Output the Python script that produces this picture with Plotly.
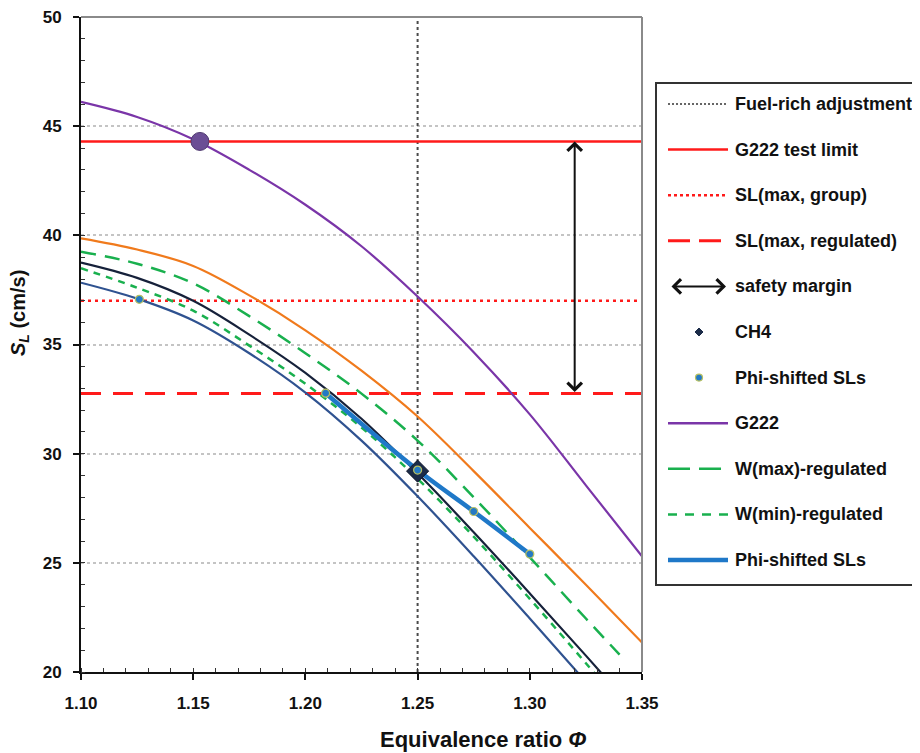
import plotly.graph_objects as go

# ---------------- data ----------------
phi = [1.10, 1.125, 1.15, 1.175, 1.20, 1.225, 1.25, 1.275, 1.30, 1.325, 1.35]
sl_g222 = [46.11, 45.42, 44.40, 43.0, 41.4, 39.5, 37.2, 34.65, 31.8, 28.55, 25.3]
sl_upper = [39.86, 39.35, 38.6, 37.25, 35.65, 33.8, 31.7, 29.2, 26.6, 24.0, 21.35]
sl_ch4 = [38.75, 38.05, 37.0, 35.45, 33.7, 31.6, 29.1, 26.4, 23.6, 20.75, 17.85]
sl_lower = [37.83, 37.1, 36.1, 34.6, 32.8, 30.6, 28.05, 25.3, 22.45, 19.55, 16.6]
sl_wmin = [38.49, 37.6, 36.55, 34.95, 33.2, 31.2, 28.85, 26.2, 23.35, 20.4, 17.4]
phi_wmax = [1.10, 1.125, 1.15, 1.175, 1.20, 1.225, 1.25, 1.275, 1.30, 1.325, 1.34]
sl_wmax = [39.25, 38.7, 37.8, 36.3, 34.6, 32.75, 30.6, 28.0, 25.25, 22.45, 20.8]

phi_shift = [1.126, 1.209, 1.25, 1.275, 1.30]
sl_shift = [37.07, 32.77, 29.25, 27.35, 25.4]

ch4_phi = [1.25]
ch4_sl = [29.2]
g222_pt_phi = [1.153]
g222_pt_sl = [44.3]

g222_limit = 44.3
sl_max_group = 37.0
sl_max_regulated = 32.75
fuel_rich_phi = 1.25
safety_phi = 1.32

x_range = [1.10, 1.35]
y_range = [20, 50]
x_ticks = [1.10, 1.15, 1.20, 1.25, 1.30, 1.35]
x_tick_labels = ["1.10", "1.15", "1.20", "1.25", "1.30", "1.35"]
y_ticks = [20, 25, 30, 35, 40, 45, 50]

legend_names = ["Fuel-rich adjustment", "G222 test limit", "SL(max, group)",
                "SL(max, regulated)", "safety margin", "CH4", "Phi-shifted SLs",
                "G222", "W(max)-regulated", "W(min)-regulated", "Phi-shifted SLs"]

# ---------------- geometry (page pixels; page body has an 8px margin) ----------------
OFF = 8
W, H = 920 - OFF, 753 - OFF
Lp, Rp, Tp, Bp = 81, 642, 17, 672


def px(p):
    return (p - Lp) / (Rp - Lp)


def py(p):
    return (Bp - p) / (Bp - Tp)


FONT = "Arial, Liberation Sans, sans-serif"
C_RED = "#FF1A1A"
C_PURPLE = "#7A35A8"
C_ORANGE = "#F07A1C"
C_DARK = "#16213A"
C_LOWER = "#2F5290"
C_GREEN = "#19B04E"
C_SHIFT = "#1F78C8"

fig = go.Figure()

fig.add_trace(go.Scatter(x=[fuel_rich_phi, fuel_rich_phi], y=y_range, mode="lines",
                         line=dict(color="#4A4A4A", width=2, dash="dot"),
                         name=legend_names[0], showlegend=False))
fig.add_trace(go.Scatter(x=x_range, y=[g222_limit, g222_limit], mode="lines",
                         line=dict(color=C_RED, width=2.5), name=legend_names[1], showlegend=False))
fig.add_trace(go.Scatter(x=x_range, y=[sl_max_group, sl_max_group], mode="lines",
                         line=dict(color=C_RED, width=2.5, dash="3px,4px"),
                         name=legend_names[2], showlegend=False))
fig.add_trace(go.Scatter(x=x_range, y=[sl_max_regulated, sl_max_regulated], mode="lines",
                         line=dict(color=C_RED, width=3, dash="20px,12px"),
                         name=legend_names[3], showlegend=False))

fig.add_trace(go.Scatter(x=phi, y=sl_upper, mode="lines", line=dict(color=C_ORANGE, width=2.2, shape="spline"),
                         name="upper", showlegend=False))
fig.add_trace(go.Scatter(x=phi, y=sl_lower, mode="lines", line=dict(color=C_LOWER, width=2.2, shape="spline"),
                         name="lower", showlegend=False))
fig.add_trace(go.Scatter(x=phi, y=sl_ch4, mode="lines", line=dict(color=C_DARK, width=2.2, shape="spline"),
                         name="CH4 curve", showlegend=False))
fig.add_trace(go.Scatter(x=phi, y=sl_wmin, mode="lines",
                         line=dict(color=C_GREEN, width=2.5, dash="7px,6px", shape="spline"),
                         name=legend_names[9], showlegend=False))
fig.add_trace(go.Scatter(x=phi_wmax, y=sl_wmax, mode="lines",
                         line=dict(color=C_GREEN, width=2.5, dash="15px,9px", shape="spline"),
                         name=legend_names[8], showlegend=False))
fig.add_trace(go.Scatter(x=phi, y=sl_g222, mode="lines", line=dict(color=C_PURPLE, width=2.2, shape="spline"),
                         name=legend_names[7], showlegend=False))

fig.add_trace(go.Scatter(x=phi_shift[1:], y=sl_shift[1:], mode="lines",
                         line=dict(color=C_SHIFT, width=4.5, shape="spline"),
                         name=legend_names[10], showlegend=False))
fig.add_trace(go.Scatter(x=ch4_phi, y=ch4_sl, mode="markers",
                         marker=dict(symbol="diamond", size=17, color="#1B2B48",
                                     line=dict(color="#0E1628", width=1)),
                         name=legend_names[5], showlegend=False))
fig.add_trace(go.Scatter(x=phi_shift, y=sl_shift, mode="markers",
                         marker=dict(symbol="circle", size=8, color="#2479C4",
                                     line=dict(color="#B8C060", width=1.2)),
                         name=legend_names[6], showlegend=False))
fig.add_trace(go.Scatter(x=g222_pt_phi, y=g222_pt_sl, mode="markers",
                         marker=dict(symbol="circle", size=18, color="#6B4E95",
                                     line=dict(color="#4F3A70", width=1)),
                         name="G222 limit point", showlegend=False))

shapes = []
annotations = []

shapes.append(dict(type="line", xref="paper", yref="paper", x0=0, x1=1, y0=1, y1=1,
                   line=dict(color="#8A8A8A", width=2)))
shapes.append(dict(type="line", xref="paper", yref="paper", x0=1, x1=1, y0=0, y1=1,
                   line=dict(color="#8A8A8A", width=2)))

annotations.append(dict(x=safety_phi, y=g222_limit, ax=safety_phi, ay=sl_max_regulated,
                        xref="x", yref="y", axref="x", ayref="y", text="", showarrow=True,
                        arrowhead=4, startarrowhead=4, arrowside="end+start", arrowsize=1.4,
                        startarrowsize=1.4, arrowwidth=2, arrowcolor="#111111",
                        standoff=0, startstandoff=0))

# ---------------- legend (drawn) ----------------
shapes.append(dict(type="rect", xref="paper", yref="paper", x0=px(656), x1=px(918),
                   y0=py(585), y1=py(83), line=dict(color="#333333", width=2), fillcolor="white",
                   layer="below"))
row_y = [104 + i * 45.6 for i in range(11)]
sx0, sx1, tx = 668, 728, 733


def lg_line(i, color, width, dash="solid"):
    shapes.append(dict(type="line", xref="paper", yref="paper", x0=px(sx0), x1=px(sx1),
                       y0=py(row_y[i]), y1=py(row_y[i]), line=dict(color=color, width=width, dash=dash)))


lg_line(0, "#666666", 2, "2px,2px")
lg_line(1, C_RED, 2.5)
lg_line(2, C_RED, 2.5, "3px,3px")
lg_line(3, C_RED, 3, "22px,9px")
annotations.append(dict(x=px(sx1 - 2), y=py(row_y[4]), xref="paper", yref="paper", ax=-56, ay=0,
                        axref="pixel", ayref="pixel", text="", showarrow=True,
                        arrowhead=4, startarrowhead=4, arrowside="end+start", arrowsize=1.4,
                        startarrowsize=1.4, arrowwidth=2, arrowcolor="#111111",
                        standoff=0, startstandoff=0))
cx = 699
cy = row_y[5]
shapes.append(dict(type="path", xref="paper", yref="paper",
                   path=f"M {px(cx-4)},{py(cy)} L {px(cx)},{py(cy-4)} L {px(cx+4)},{py(cy)} L {px(cx)},{py(cy+4)} Z",
                   fillcolor="#1B2B48", line=dict(color="#1B2B48", width=1)))
cy = row_y[6]
shapes.append(dict(type="circle", xref="paper", yref="paper", x0=px(cx - 3.5), x1=px(cx + 3.5),
                   y0=py(cy + 3.5), y1=py(cy - 3.5), fillcolor="#2479C4",
                   line=dict(color="#B8C060", width=1.2)))
lg_line(7, C_PURPLE, 2.5)
lg_line(8, C_GREEN, 2.5, "22px,9px")
lg_line(9, C_GREEN, 2.5, "9px,8px")
lg_line(10, C_SHIFT, 4.5)

for i, name in enumerate(legend_names):
    annotations.append(dict(x=px(tx), y=py(row_y[i]), xref="paper", yref="paper",
                            text=f"<b>{name}</b>", showarrow=False, xanchor="left", yanchor="middle",
                            font=dict(family=FONT, size=18, color="#111111")))

annotations.append(dict(x=px(483), y=py(739), xref="paper", yref="paper",
                        text="<b>Equivalence ratio <i>Φ</i></b>", showarrow=False,
                        xanchor="center", yanchor="middle",
                        font=dict(family=FONT, size=22, color="#111111")))
annotations.append(dict(x=px(19), y=py(313), xref="paper", yref="paper", textangle=-90,
                        text="<b><i>S</i><sub><i>L</i></sub> (cm/s)</b>", showarrow=False,
                        xanchor="center", yanchor="middle",
                        font=dict(family=FONT, size=20, color="#111111")))

fig.update_layout(
    width=W, height=H,
    margin=dict(l=Lp - OFF, r=W + OFF - Rp, t=Tp - OFF, b=H + OFF - Bp, pad=0, autoexpand=False),
    paper_bgcolor="white", plot_bgcolor="white",
    showlegend=False,
    shapes=shapes, annotations=annotations,
    font=dict(family=FONT, color="#111111"),
    xaxis=dict(range=x_range, tickvals=x_ticks, ticktext=x_tick_labels, automargin=False,
               showgrid=False, zeroline=False, showline=True, linecolor="#111111", linewidth=2,
               ticks="outside", ticklen=6, tickwidth=1.5, tickcolor="#111111",
               ticklabelstandoff=9, ticklabeloverflow="allow",
               tickfont=dict(family=FONT, size=17, color="#111111", weight="bold"),
               minor=dict(dtick=0.01, ticks="inside", ticklen=4, tickwidth=1.2, tickcolor="#333333",
                          showgrid=False)),
    yaxis=dict(range=y_range, tickvals=y_ticks, automargin=False,
               showgrid=True, gridcolor="#C4C4C4", gridwidth=1.5,
               griddash="dot", zeroline=False, showline=True, linecolor="#111111", linewidth=2,
               ticks="outside", ticklen=6, tickwidth=1.5, tickcolor="#111111",
               ticklabelstandoff=8, ticklabeloverflow="allow",
               tickfont=dict(family=FONT, size=17, color="#111111", weight="bold"),
               minor=dict(dtick=1, ticks="inside", ticklen=4, tickwidth=1.2, tickcolor="#333333",
                          showgrid=False)),
)

fig.write_html("out.html")
